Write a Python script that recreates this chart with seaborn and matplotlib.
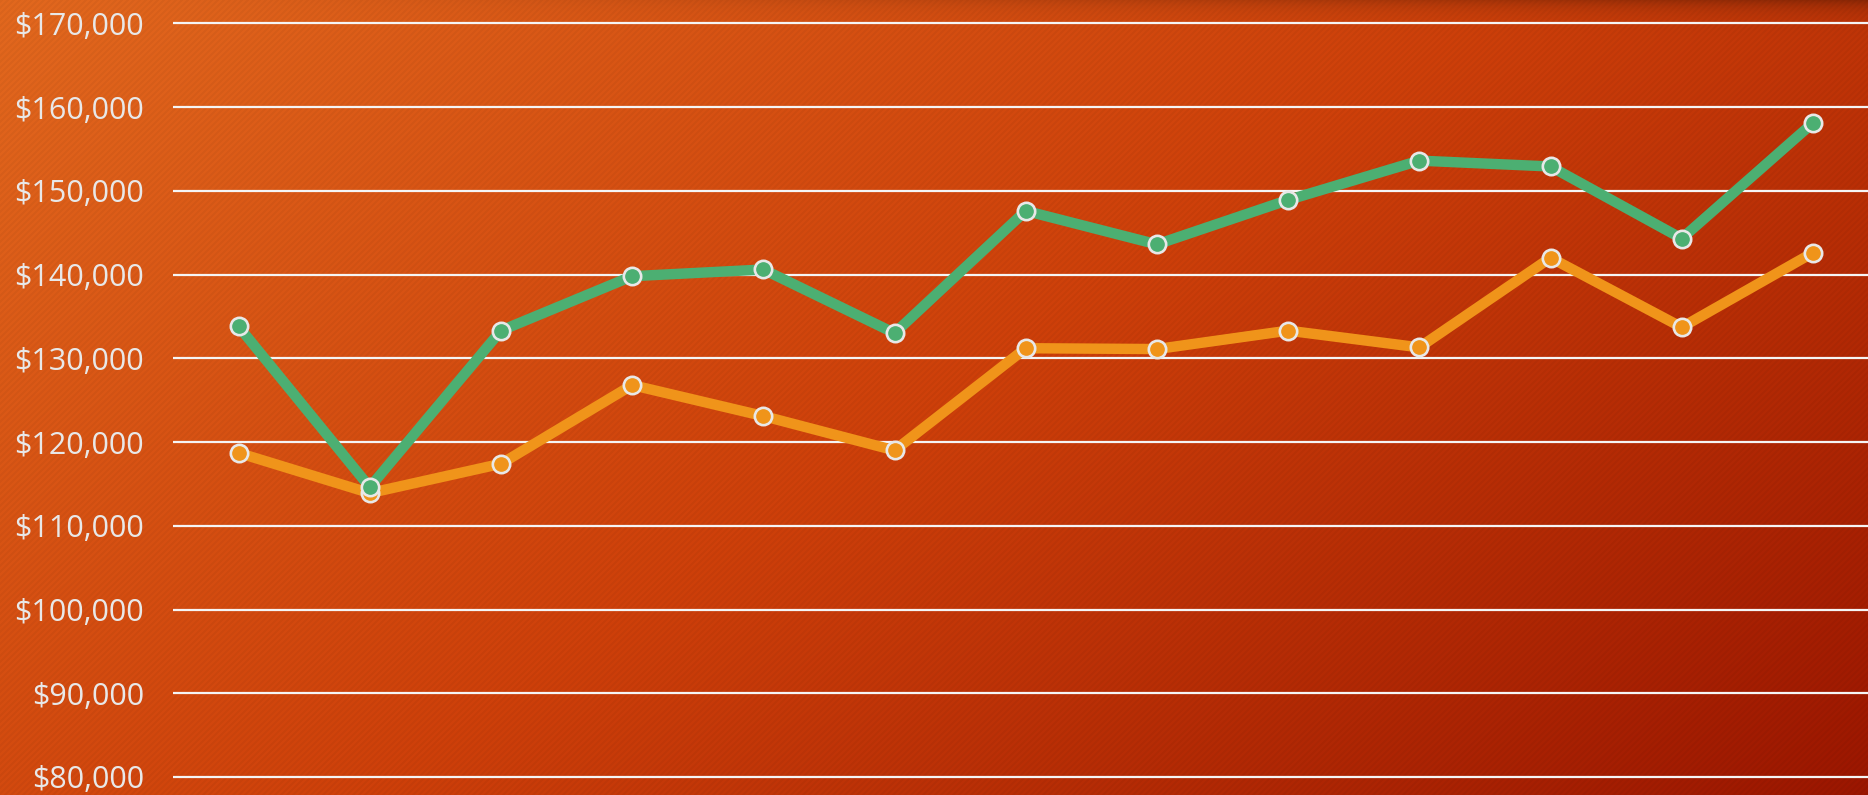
import numpy as np
import pandas as pd
import seaborn as sns
import matplotlib.pyplot as plt
from matplotlib.ticker import FuncFormatter, MultipleLocator

# chart data (13 periods)
periods = list(range(13))
green_values = [133800, 114600, 133300, 139800, 140600, 133000, 147600,
                143600, 148900, 153600, 152900, 144300, 158100]
orange_values = [118700, 113900, 117400, 126800, 123100, 119000, 131200,
                 131100, 133300, 131300, 142000, 133700, 142600]
series_names = ['Orange', 'Green']
series_colors = ['#f0941a', '#4caf72']

df = pd.concat([
    pd.DataFrame({'period': periods, 'value': orange_values, 'series': 'Orange'}),
    pd.DataFrame({'period': periods, 'value': green_values, 'series': 'Green'}),
])

W, H = 1868, 795
fig = plt.figure(figsize=(W / 100, H / 100), dpi=100)

# background: diagonal orange -> dark red gradient with fine stripes
yy, xx = np.mgrid[0:H, 0:W].astype(float)
t = np.clip(0.62 * xx / W + 0.38 * yy / H, 0, 1)
stops_t = [0.0, 0.5, 1.0]
stops_c = np.array([[226, 104, 30], [206, 64, 10], [155, 22, 0]], float)
img = np.zeros((H, W, 3))
for c in range(3):
    img[..., c] = np.interp(t, stops_t, stops_c[:, c])
stripes = ((xx + yy) % 6) < 3
img[stripes] *= 0.965
shade = 1 - 0.28 * np.exp(-yy / 10) * (xx / W) ** 1.5
img *= shade[..., None]
bg = fig.add_axes([0, 0, 1, 1])
bg.imshow(img.astype(np.uint8), aspect='auto', interpolation='nearest')
bg.axis('off')

sns.set_style('white')
plt.rcParams['font.family'] = ['Open Sans', 'DejaVu Sans']

ax = fig.add_axes([173 / W, 0, 1 - 173 / W, 1])
ax.set_facecolor('none')

sns.lineplot(data=df, x='period', y='value', hue='series',
             hue_order=series_names, palette=series_colors,
             linewidth=7.5, marker='o', markersize=12.5,
             markeredgecolor='#e8e8e8', markeredgewidth=1.9,
             legend=False, ax=ax, zorder=3)

ax.set_xlim(-0.5, 12.42)
ax.set_ylim(77850, 172780)
ax.yaxis.set_major_locator(MultipleLocator(10000))
ax.yaxis.set_major_formatter(FuncFormatter(lambda v, p: f'${v:,.0f}'))
ax.grid(axis='y', color='#f5f5f5', linewidth=1.6, zorder=1)
ax.grid(axis='x', visible=False)
ax.set_axisbelow(True)
ax.set_xticks([])
ax.tick_params(axis='y', length=0, pad=21, labelsize=22, labelcolor='#e8e8e8')
ax.set_xlabel('')
ax.set_ylabel('')
for s in ax.spines.values():
    s.set_visible(False)

fig.savefig('out.png', dpi=100)
